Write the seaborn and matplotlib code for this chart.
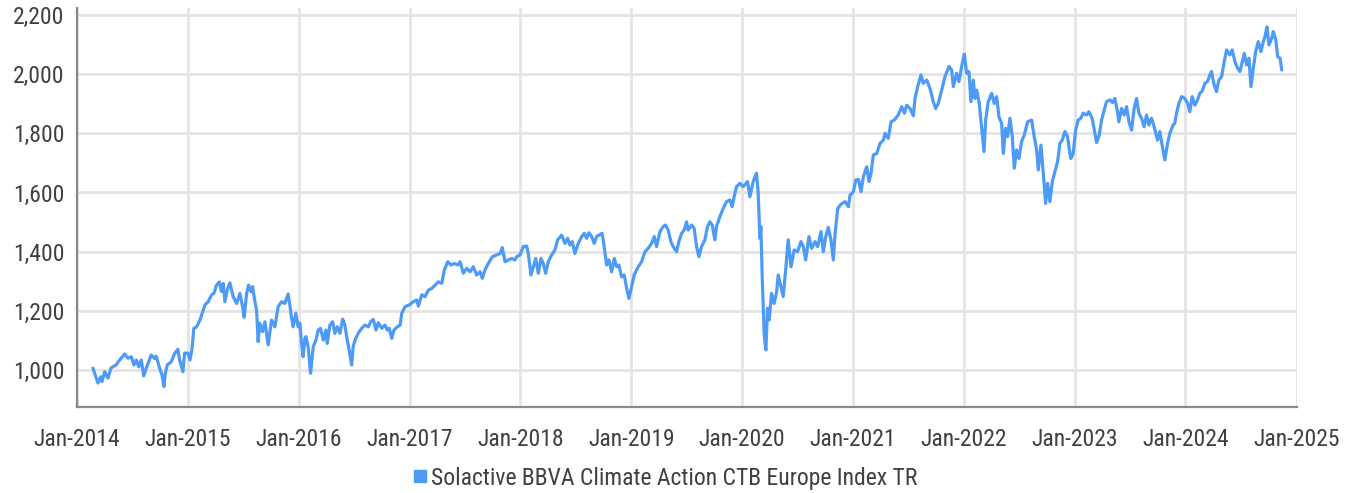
import numpy as np
import pandas as pd
import matplotlib
matplotlib.use("Agg")
import matplotlib.pyplot as plt
import matplotlib.dates as mdates
import matplotlib.ticker as mticker
from matplotlib.lines import Line2D
from matplotlib import font_manager
import seaborn as sns

# ---- data (decimal year, index level) ----
time_years = [
    2014.144, 2014.189, 2014.214, 2014.226, 2014.250, 2014.280, 2014.307, 2014.352, 2014.385, 2014.430,
    2014.460, 2014.490, 2014.514, 2014.535, 2014.557, 2014.580, 2014.602, 2014.625, 2014.670, 2014.701,
    2014.715, 2014.746, 2014.767, 2014.785, 2014.797, 2014.815, 2014.851, 2014.881, 2014.911, 2014.926,
    2014.956, 2014.971, 2015.001, 2015.020, 2015.037, 2015.055, 2015.080, 2015.110, 2015.155, 2015.184,
    2015.215, 2015.236, 2015.260, 2015.284, 2015.305, 2015.320, 2015.335, 2015.356, 2015.380, 2015.410,
    2015.441, 2015.470, 2015.495, 2015.509, 2015.531, 2015.549, 2015.570, 2015.585, 2015.606, 2015.621,
    2015.635, 2015.651, 2015.675, 2015.696, 2015.726, 2015.756, 2015.786, 2015.816, 2015.846, 2015.876,
    2015.906, 2015.921, 2015.937, 2015.951, 2015.975, 2015.996, 2016.012, 2016.027, 2016.041, 2016.057,
    2016.066, 2016.086, 2016.108, 2016.132, 2016.156, 2016.177, 2016.198, 2016.222, 2016.246, 2016.258,
    2016.282, 2016.307, 2016.327, 2016.348, 2016.372, 2016.397, 2016.417, 2016.438, 2016.456, 2016.478,
    2016.492, 2016.508, 2016.537, 2016.568, 2016.598, 2016.628, 2016.649, 2016.673, 2016.697, 2016.718,
    2016.749, 2016.778, 2016.799, 2016.817, 2016.839, 2016.859, 2016.889, 2016.914, 2016.929, 2016.959,
    2016.997, 2017.034, 2017.064, 2017.079, 2017.109, 2017.139, 2017.169, 2017.200, 2017.229, 2017.259,
    2017.290, 2017.313, 2017.344, 2017.374, 2017.403, 2017.434, 2017.455, 2017.485, 2017.515, 2017.545,
    2017.575, 2017.605, 2017.635, 2017.656, 2017.680, 2017.710, 2017.746, 2017.786, 2017.816, 2017.836,
    2017.861, 2017.891, 2017.921, 2017.951, 2017.966, 2017.996, 2018.026, 2018.056, 2018.071, 2018.095,
    2018.116, 2018.138, 2018.161, 2018.186, 2018.206, 2018.228, 2018.251, 2018.282, 2018.312, 2018.336,
    2018.372, 2018.402, 2018.426, 2018.447, 2018.468, 2018.492, 2018.522, 2018.553, 2018.576, 2018.598,
    2018.618, 2018.643, 2018.666, 2018.688, 2018.709, 2018.738, 2018.756, 2018.778, 2018.799, 2018.823,
    2018.847, 2018.868, 2018.889, 2018.913, 2018.937, 2018.959, 2018.979, 2019.004, 2019.027, 2019.063,
    2019.094, 2019.124, 2019.153, 2019.184, 2019.208, 2019.229, 2019.259, 2019.289, 2019.310, 2019.334,
    2019.358, 2019.379, 2019.410, 2019.430, 2019.455, 2019.478, 2019.500, 2019.514, 2019.545, 2019.568,
    2019.590, 2019.611, 2019.635, 2019.665, 2019.689, 2019.710, 2019.731, 2019.755, 2019.770, 2019.800,
    2019.830, 2019.861, 2019.890, 2019.911, 2019.929, 2019.951, 2019.981, 2020.011, 2020.050, 2020.071,
    2020.101, 2020.131, 2020.146, 2020.161, 2020.170, 2020.182, 2020.200, 2020.215, 2020.230, 2020.245,
    2020.266, 2020.290, 2020.312, 2020.326, 2020.350, 2020.371, 2020.393, 2020.416, 2020.441, 2020.470,
    2020.501, 2020.531, 2020.552, 2020.573, 2020.603, 2020.627, 2020.657, 2020.681, 2020.711, 2020.732,
    2020.754, 2020.777, 2020.801, 2020.822, 2020.838, 2020.862, 2020.892, 2020.928, 2020.958, 2020.973,
    2021.003, 2021.024, 2021.048, 2021.072, 2021.093, 2021.123, 2021.144, 2021.162, 2021.183, 2021.214,
    2021.243, 2021.273, 2021.289, 2021.318, 2021.343, 2021.372, 2021.408, 2021.439, 2021.463, 2021.484,
    2021.514, 2021.544, 2021.559, 2021.583, 2021.613, 2021.634, 2021.665, 2021.694, 2021.724, 2021.746,
    2021.769, 2021.800, 2021.830, 2021.866, 2021.890, 2021.905, 2021.935, 2021.956, 2021.986, 2022.004,
    2022.025, 2022.046, 2022.064, 2022.085, 2022.100, 2022.116, 2022.137, 2022.155, 2022.166, 2022.182,
    2022.197, 2022.220, 2022.251, 2022.274, 2022.296, 2022.317, 2022.341, 2022.356, 2022.377, 2022.395,
    2022.416, 2022.437, 2022.455, 2022.476, 2022.497, 2022.521, 2022.545, 2022.576, 2022.612, 2022.635,
    2022.657, 2022.672, 2022.696, 2022.717, 2022.738, 2022.756, 2022.777, 2022.798, 2022.822, 2022.846,
    2022.867, 2022.888, 2022.912, 2022.936, 2022.957, 2022.966, 2022.987, 2023.009, 2023.032, 2023.056,
    2023.077, 2023.108, 2023.129, 2023.158, 2023.183, 2023.198, 2023.222, 2023.243, 2023.267, 2023.288,
    2023.318, 2023.342, 2023.363, 2023.387, 2023.399, 2023.424, 2023.447, 2023.469, 2023.490, 2023.514,
    2023.537, 2023.559, 2023.580, 2023.604, 2023.627, 2023.649, 2023.670, 2023.694, 2023.718, 2023.748,
    2023.769, 2023.790, 2023.814, 2023.839, 2023.859, 2023.889, 2023.904, 2023.920, 2023.941, 2023.965,
    2023.995, 2024.019, 2024.040, 2024.061, 2024.085, 2024.109, 2024.130, 2024.151, 2024.175, 2024.199,
    2024.220, 2024.235, 2024.259, 2024.280, 2024.301, 2024.326, 2024.349, 2024.371, 2024.400, 2024.421,
    2024.446, 2024.470, 2024.491, 2024.512, 2024.530, 2024.551, 2024.572, 2024.590, 2024.611, 2024.632,
    2024.656, 2024.680, 2024.701, 2024.716, 2024.734, 2024.752, 2024.777, 2024.791, 2024.813, 2024.831,
    2024.852, 2024.867,
]
index_values = [
    1006, 956, 977, 961, 994, 973, 1007, 1017, 1034, 1054,
    1040, 1045, 1017, 1034, 1011, 1034, 980, 1006, 1051, 1039,
    1047, 1006, 983, 944, 989, 1017, 1028, 1056, 1070, 1034,
    994, 1057, 1057, 1034, 1068, 1141, 1146, 1169, 1220, 1231,
    1254, 1259, 1287, 1298, 1265, 1293, 1231, 1270, 1295, 1248,
    1225, 1259, 1214, 1178, 1259, 1287, 1265, 1282, 1231, 1203,
    1096, 1158, 1130, 1163, 1085, 1169, 1146, 1214, 1231, 1225,
    1257, 1220, 1175, 1146, 1192, 1146, 1158, 1090, 1045, 1107,
    1113, 1079, 989, 1079, 1101, 1135, 1141, 1101, 1135, 1090,
    1152, 1163, 1124, 1146, 1124, 1172, 1152, 1101, 1068, 1017,
    1079, 1101, 1124, 1141, 1152, 1146, 1163, 1171, 1135, 1160,
    1141, 1152, 1135, 1141, 1107, 1135, 1146, 1152, 1192, 1214,
    1220, 1231, 1237, 1216, 1254, 1248, 1270, 1276, 1287, 1298,
    1293, 1338, 1366, 1355, 1360, 1355, 1366, 1327, 1344, 1332,
    1349, 1321, 1332, 1310, 1338, 1360, 1383, 1389, 1394, 1414,
    1366, 1372, 1377, 1372, 1383, 1389, 1417, 1419, 1394, 1321,
    1349, 1377, 1327, 1377, 1360, 1327, 1366, 1389, 1406, 1440,
    1456, 1428, 1445, 1422, 1434, 1394, 1428, 1451, 1462, 1445,
    1464, 1451, 1428, 1451, 1456, 1462, 1417, 1355, 1372, 1332,
    1377, 1349, 1355, 1315, 1321, 1276, 1242, 1282, 1321, 1349,
    1366, 1400, 1411, 1428, 1451, 1417, 1468, 1485, 1490, 1473,
    1434, 1417, 1400, 1434, 1462, 1473, 1501, 1473, 1490, 1479,
    1417, 1383, 1417, 1440, 1485, 1501, 1490, 1440, 1485, 1518,
    1546, 1569, 1575, 1552, 1586, 1620, 1631, 1620, 1637, 1586,
    1637, 1665, 1597, 1445, 1485, 1315, 1118, 1068, 1209, 1169,
    1259, 1225, 1265, 1321, 1282, 1248, 1338, 1440, 1349, 1406,
    1400, 1434, 1417, 1372, 1451, 1411, 1434, 1417, 1468, 1400,
    1451, 1482, 1440, 1372, 1462, 1546, 1561, 1569, 1552, 1591,
    1603, 1642, 1644, 1603, 1654, 1687, 1637, 1665, 1727, 1732,
    1766, 1777, 1800, 1783, 1839, 1845, 1862, 1890, 1868, 1895,
    1884, 1859, 1918, 1958, 1997, 1969, 1980, 1952, 1907, 1884,
    1901, 1946, 1992, 2026, 2014, 1958, 2003, 1975, 2037, 2068,
    2003, 2009, 1907, 1980, 1918, 1946, 1907, 1839, 1800, 1738,
    1845, 1907, 1935, 1901, 1924, 1856, 1834, 1732, 1817, 1789,
    1851, 1789, 1682, 1744, 1715, 1772, 1794, 1839, 1845, 1789,
    1744, 1676, 1760, 1665, 1563, 1631, 1569, 1637, 1671, 1704,
    1766, 1777, 1806, 1789, 1732, 1715, 1732, 1811, 1845, 1851,
    1868, 1862, 1873, 1851, 1800, 1769, 1794, 1845, 1879, 1907,
    1913, 1904, 1918, 1873, 1839, 1884, 1862, 1890, 1839, 1811,
    1884, 1918, 1868, 1851, 1822, 1862, 1828, 1851, 1822, 1777,
    1806, 1760, 1710, 1766, 1800, 1828, 1834, 1868, 1901, 1924,
    1918, 1901, 1873, 1924, 1895, 1913, 1935, 1943, 1969, 1975,
    1997, 2009, 1963, 1941, 1980, 1992, 2042, 2082, 2065, 2082,
    2042, 2020, 2009, 2042, 2070, 2031, 2054, 1958, 2020, 2076,
    2110, 2076, 2110, 2127, 2160, 2099, 2121, 2144, 2116, 2059,
    2054, 2014,
]
series_name = "Solactive BBVA Climate Action CTB Europe Index TR"
y_ticks = [1000, 1200, 1400, 1600, 1800, 2000, 2200]
x_tick_years = list(range(2014, 2026))

# ---- convert decimal years to dates ----
def dec_to_date(v):
    yr = int(np.floor(v))
    start = pd.Timestamp(year=yr, month=1, day=1)
    end = pd.Timestamp(year=yr + 1, month=1, day=1)
    return start + (end - start) * (v - yr)

df = pd.DataFrame({
    "date": [dec_to_date(v) for v in time_years],
    "value": index_values,
})

# ---- font ----
avail = {f.name for f in font_manager.fontManager.ttflist}
family = "DejaVu Sans"
for cand in ["Roboto Condensed", "Liberation Sans Narrow", "Open Sans Condensed",
             "Noto Sans Condensed", "Roboto", "Liberation Sans"]:
    if cand in avail:
        family = cand
        break

sns.set_theme(style="white")
plt.rcParams["font.family"] = [family, "DejaVu Sans"]

LINE_COLOR = "#4d9bf7"
TEXT_COLOR = "#404040"
GRID_COLOR = "#e4e4e4"
FS = 17

fig = plt.figure(figsize=(13.57, 4.93), dpi=100)
ax = fig.add_axes([77 / 1357, 1 - 407 / 493, (1296.5 - 77) / 1357, (407 - 8) / 493])

sns.lineplot(data=df, x="date", y="value", ax=ax, color=LINE_COLOR,
             linewidth=2.3, legend=False)

ax.set_xlim(pd.Timestamp("2014-01-01"), pd.Timestamp("2025-01-01"))
ax.set_ylim(875, 2223.6)

ax.set_xticks([pd.Timestamp(year=y, month=1, day=1) for y in x_tick_years])
ax.xaxis.set_major_formatter(mdates.DateFormatter("%b-%Y"))
ax.set_yticks(y_ticks)
ax.yaxis.set_major_formatter(mticker.FuncFormatter(lambda v, p: f"{int(v):,}"))

ax.grid(True, color=GRID_COLOR, linewidth=2.0)
ax.set_axisbelow(True)
ax.set_xlabel("")
ax.set_ylabel("")

for s in ["top", "right"]:
    ax.spines[s].set_visible(False)
for s in ["left", "bottom"]:
    ax.spines[s].set_color("#8a8a8a")
    ax.spines[s].set_linewidth(1.6)

ax.tick_params(axis="x", length=0, pad=15, labelsize=FS, labelcolor=TEXT_COLOR)
ax.tick_params(axis="y", length=0, pad=9, labelsize=FS, labelcolor=TEXT_COLOR)

handle = Line2D([0], [0], marker="s", linestyle="none", markersize=9,
                markerfacecolor=LINE_COLOR, markeredgecolor=LINE_COLOR)
fig.legend([handle], [series_name], loc="center", bbox_to_anchor=(664 / 1357, 1 - 478 / 493),
           frameon=False, fontsize=FS, handletextpad=0.05, handlelength=0.8,
           labelcolor=TEXT_COLOR)

fig.savefig("out.png", dpi=100)
